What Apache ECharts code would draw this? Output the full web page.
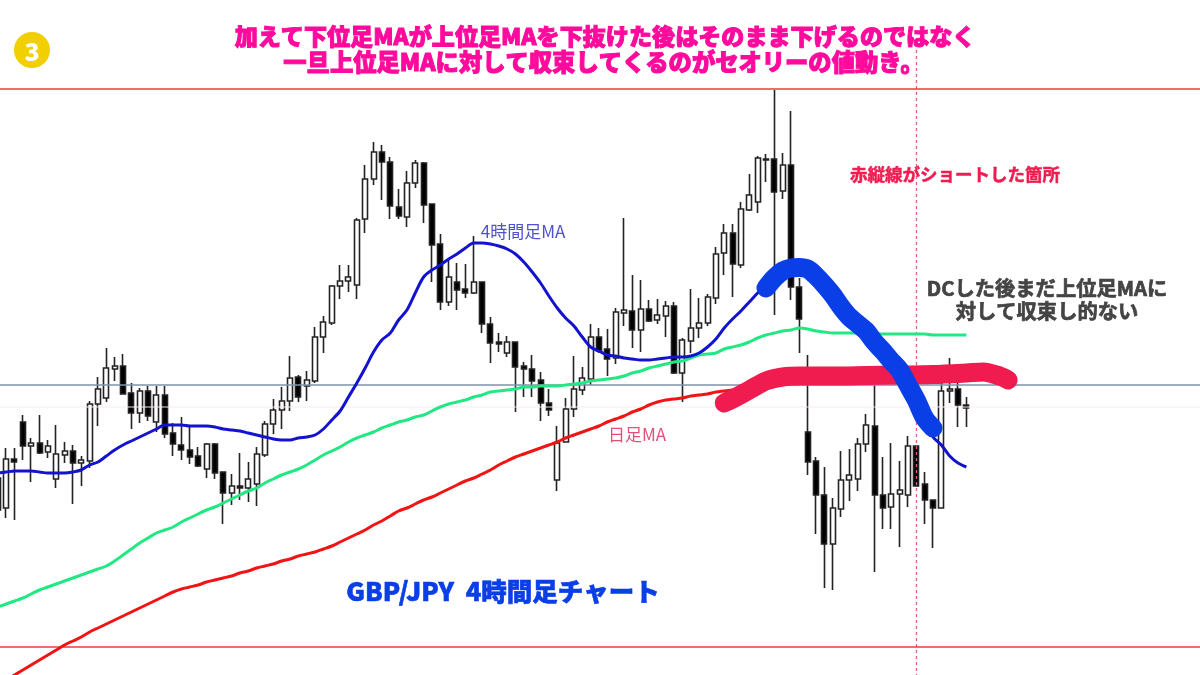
<!DOCTYPE html>
<html>
<head>
<meta charset="utf-8">
<title>GBP/JPY 4時間足チャート</title>
<script src="https://cdn.jsdelivr.net/npm/echarts@6/dist/echarts.min.js"></script>
<style>
html, body { margin: 0; padding: 0; background: #fff; }
#chart { width: 1200px; height: 675px; }
</style>
</head>
<body>
<div id="chart"></div>
<script>
// prices are in the picture's own relative units, the real scale is not shown
var opens = [165,167,216,253,229,232,223,196,220,224,212,214,271,277,306,309,282,262,284,253,
	280,242,230,225,219,206,231,203,182,189,187,191,220,251,265,274,298,289,294,338,
	352,389,394,390,456,496,523,513,468,458,492,512,471,431,373,393,386,382,393,351,
	333,322,333,309,306,295,272,195,233,266,285,296,338,326,317,362,364,345,366,355,
	359,369,302,334,347,352,377,422,442,410,465,473,516,516,484,510,388,243,214,180,
	131,166,195,196,231,249,180,168,181,180,229,191,175,167,284,286,270];
var closes = [197,216,213,229,232,222,229,221,224,212,215,271,286,307,309,281,262,284,259,280,
	241,231,225,218,209,231,202,182,189,187,196,221,251,265,274,297,278,295,338,353,
	389,394,398,455,496,523,513,469,459,492,512,470,430,373,398,385,382,393,351,332,
	331,333,308,306,294,272,265,232,266,286,297,338,324,316,363,365,345,366,354,360,
	369,302,335,347,352,378,421,442,411,466,480,517,515,483,510,388,356,213,180,131,
	167,195,200,231,250,180,167,181,185,229,189,175,167,284,286,270,267];
var lows = [160,157,155,215,193,221,217,187,212,171,189,207,249,273,294,281,246,252,254,243,
	237,219,215,211,208,197,196,151,170,175,173,169,218,241,246,264,273,274,292,322,
	350,376,383,376,442,490,475,456,456,448,487,452,393,365,369,365,377,381,342,312,
	323,318,263,278,278,254,259,184,233,258,280,290,322,299,311,349,327,323,353,351,
	338,301,273,322,337,349,371,400,378,407,464,462,493,360,476,375,322,200,141,87,
	85,158,174,184,223,103,146,146,128,168,189,151,127,167,272,248,248];
var highs = [205,227,227,260,237,260,235,250,233,230,219,274,298,327,318,321,292,287,289,289,
	289,252,258,248,228,232,232,203,201,222,213,228,254,276,288,319,300,304,348,359,
	390,410,410,457,510,533,530,518,486,504,515,513,471,441,415,412,411,439,393,358,
	342,339,333,313,320,303,286,249,277,319,308,351,347,346,367,457,400,395,375,376,
	374,373,337,386,377,381,428,451,451,473,501,519,521,585,522,564,397,320,218,208,
	177,224,226,237,261,290,218,232,214,239,229,203,175,305,317,295,278];

var blueMA = [202,203,204,204,204,203,202,202,202,203,205,210,213,219,225,230,234,238,242,246,
	250,250,250,249,249,249,248,246,245,244,242,240,238,236,235,235,237,238,240,246,
	255,264,278,292,307,323,335,342,355,365,382,398,405,410,416,421,427,432,432,431,
	429,426,421,413,403,392,379,367,357,349,338,328,324,320,319,317,316,315,315,316,
	317,318,318,319,322,328,336,347,356,364,373,382,390,397,403,407,407,405,399,389,
	379,367,357,349,342,332,323,313,303,289,274,255,238,230,219,212,208];
var greenMA = [68,71,74,77,81,85,88,91,94,97,100,103,106,109,114,120,126,132,137,142,
	145,148,153,157,161,165,168,172,176,180,184,187,192,196,200,203,206,210,215,220,
	224,228,233,237,240,243,247,250,253,255,258,260,264,268,271,273,275,278,280,283,
	284,285,286,288,288,289,289,289,290,291,292,294,295,296,297,299,302,304,307,309,
	311,313,314,317,320,321,322,326,328,330,333,337,340,342,344,345,347,346,344,343,
	342,342,342,342,342,341,341,341,341,341,341,341,340,340,340,340,340];
var redMA = [-9,-5,0,5,10,15,20,25,30,34,38,43,47,51,55,59,63,67,71,75,
	79,83,86,88,90,93,95,97,99,102,104,107,109,111,114,116,119,121,123,126,
	129,133,137,141,145,150,154,159,164,167,171,175,178,182,186,190,194,197,201,205,
	210,214,218,221,224,227,230,233,237,240,243,246,249,253,256,259,263,266,270,273,
	275,276,277,279,280,281,283,284,285,286,287];

// hand drawn strokes, [bar index, price]
var redStroke = [[87,272],[88,276],[90,285],[92,294],[94,298],[96,299],[100,299],[104,299.5],[108,300],
	[112,300.5],[116,302],[118,303],[120,299],[121,295]];
var blueStroke = [[92,387],[93,397],[94,404],[95,407],[96,407.5],[97,406],[98,399],[99,390],
	[100,380],[101,368],[102,358],[103,351],[104,344],[105,333],[106,324],[107,314],
	[108,305],[109,290],[110,275],[111,257],[112,247]];

var upperLevel = 586;
var lowerLevel = 28;
var slateLevel = 290;
var paleLevel = 268;
var shortBar = 110;
var shortLineTop = 625;
var barCount = 146;

var categories = [];
for (var i = 0; i < barCount; i++) {
	categories.push(String(i));
}
var candles = [];
for (var k = 0; k < opens.length; k++) {
	candles.push([opens[k], closes[k], lows[k], highs[k]]);
}

function levelSeries(value, color, width) {
	return {
		type: 'line',
		data: categories.map(function() { return value; }),
		showSymbol: false,
		z: 3,
		lineStyle: { color: color, width: width }
	};
}

var jp = '"Noto Sans CJK JP", "Noto Sans", sans-serif';

function note(x, y, str, color, size, weight, border) {
	return {
		type: 'text',
		x: x,
		y: y,
		z: 20,
		style: {
			text: str,
			fill: color,
			font: weight + ' ' + size + 'px ' + jp,
			textAlign: 'center',
			textVerticalAlign: 'middle',
			stroke: border ? color : 'transparent',
			lineWidth: border || 0
		}
	};
}

var chart = echarts.init(document.getElementById('chart'));
chart.setOption({
	animation: false,
	backgroundColor: '#fff',
	grid: { left: -6.4, top: 0, width: 1219.1, height: 675, outerBoundsMode: 'none' },
	xAxis: { type: 'category', data: categories, show: false, boundaryGap: true },
	yAxis: { type: 'value', min: 0, max: 675, show: false, splitLine: { show: false } },
	series: [
		{
			type: 'candlestick',
			data: candles,
			barWidth: 5.5,
			z: 2,
			itemStyle: {
				color: '#fff',
				color0: '#000',
				borderColor: '#222',
				borderColor0: '#222',
				borderWidth: 1.6
			}
		},
		levelSeries(upperLevel, '#f03c3c', 1.6),
		levelSeries(lowerLevel, '#f03c3c', 1.6),
		levelSeries(slateLevel, '#7f92ab', 1.5),
		levelSeries(paleLevel, '#f7eaea', 1),
		{
			type: 'line',
			data: [],
			z: 3,
			markLine: {
				silent: true,
				symbol: 'none',
				label: { show: false },
				z: 3,
				lineStyle: { color: '#d9607c', width: 1.3, type: [3, 3] },
				data: [[{ xAxis: shortBar, yAxis: shortLineTop }, { xAxis: shortBar, yAxis: 0 }]]
			}
		},
		{ name: 'red', type: 'line', data: redMA, showSymbol: false, smooth: 0.3, z: 4, lineStyle: { color: '#f01414', width: 3 } },
		{ name: 'green', type: 'line', data: greenMA, showSymbol: false, smooth: 0.3, z: 4, lineStyle: { color: '#22e883', width: 3 } },
		{ name: 'blue', type: 'line', data: blueMA, showSymbol: false, smooth: 0.3, z: 4, lineStyle: { color: '#1212cf', width: 3 } },
		{
			type: 'line',
			data: redStroke,
			showSymbol: false,
			smooth: 0.3,
			z: 5,
			lineStyle: { color: '#f01c50', width: 19, cap: 'round', join: 'round' }
		},
		{
			type: 'line',
			data: blueStroke,
			showSymbol: false,
			smooth: 0.3,
			z: 6,
			lineStyle: { color: '#0a3ee6', width: 19, cap: 'round', join: 'round' }
		}
	],
	graphic: [
		{ type: 'circle', shape: { cx: 32, cy: 50, r: 18 }, style: { fill: '#f2cf00' }, z: 20 },
		note(32, 51, '3', '#fff', 25, 900),
		note(605, 36, '加えて下位足MAが上位足MAを下抜けた後はそのまま下げるのではなく', '#ff0a9c', 23.1, 900, 1),
		note(603.5, 62, '一旦上位足MAに対して収束してくるのがセオリーの値動き。', '#ff0a9c', 23.3, 900, 1),
		note(955, 174, '赤縦線がショートした箇所', '#f01c50', 17.5, 700, 0.5),
		note(1047, 288, 'DCした後まだ上位足MAに', '#444', 20.3, 700, 0.7),
		note(1047, 311, '対して収束し的ない', '#444', 20.3, 700, 0.7),
		note(523, 232, '4時間足MA', '#5050d2', 17, 400),
		note(637, 435, '日足MA', '#e2507a', 17, 400),
		note(503, 591, 'GBP/JPY  4時間足チャート', '#0a3ee6', 25.5, 900, 0.6)
	]
});
</script>
</body>
</html>
